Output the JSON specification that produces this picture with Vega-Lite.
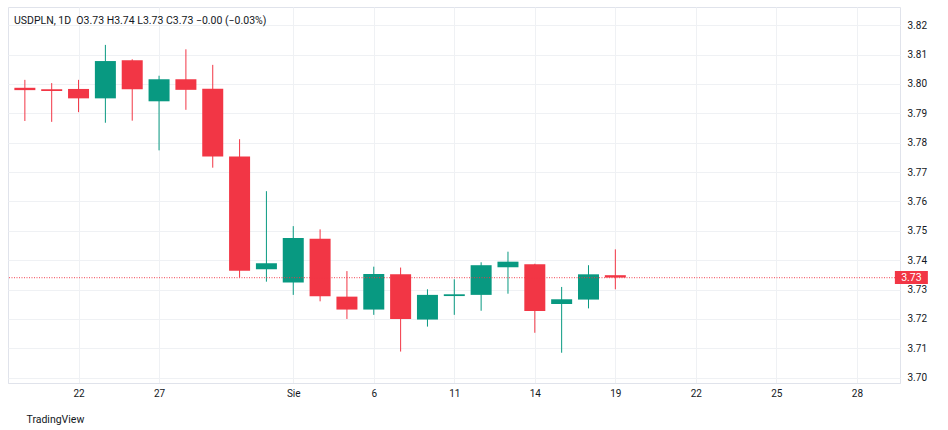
{
  "$schema": "https://vega.github.io/schema/vega-lite/v6.json",
  "width": 892,
  "height": 376,
  "autosize": {"type": "none"},
  "padding": {"left": 8, "top": 7, "right": 48, "bottom": 47},
  "background": "white",
  "title": {
    "text": "USDPLN, 1D\u00a0 O3.73 H3.74 L3.73 C3.73 −0.00 (−0.03%)",
    "anchor": "start",
    "frame": "group",
    "offset": -19,
    "dx": 6,
    "font": "Roboto",
    "fontSize": 10.5,
    "fontWeight": "normal",
    "color": "#131722"
  },
  "config": {
    "view": {"stroke": "#e0e3eb", "strokeWidth": 1},
    "axis": {
      "labelFont": "Roboto",
      "labelFontSize": 10,
      "labelColor": "#131722",
      "gridColor": "#eff1f4",
      "gridWidth": 1,
      "ticks": false,
      "domainColor": "#e0e3eb",
      "labelOverlap": false
    },
    "axisY": {"tickCount": 13, "labelOverlap": false}
  },
  "data": {
    "values": [
      {"i": 0, "date": "2025-07-18", "o": 3.7987, "h": 3.8014, "l": 3.7874, "c": 3.7979},
      {"i": 1, "date": "2025-07-21", "o": 3.7982, "h": 3.8003, "l": 3.7871, "c": 3.7976},
      {"i": 2, "date": "2025-07-22", "o": 3.7983, "h": 3.8014, "l": 3.7904, "c": 3.7951},
      {"i": 3, "date": "2025-07-23", "o": 3.7951, "h": 3.8133, "l": 3.7868, "c": 3.8078},
      {"i": 4, "date": "2025-07-24", "o": 3.8081, "h": 3.8084, "l": 3.7875, "c": 3.7982},
      {"i": 5, "date": "2025-07-25", "o": 3.7941, "h": 3.8028, "l": 3.7774, "c": 3.8016},
      {"i": 6, "date": "2025-07-28", "o": 3.8016, "h": 3.8118, "l": 3.7912, "c": 3.7980},
      {"i": 7, "date": "2025-07-29", "o": 3.7984, "h": 3.8065, "l": 3.7715, "c": 3.7753},
      {"i": 8, "date": "2025-07-30", "o": 3.7753, "h": 3.7812, "l": 3.7341, "c": 3.7364},
      {"i": 9, "date": "2025-07-31", "o": 3.7369, "h": 3.7635, "l": 3.7327, "c": 3.7390},
      {"i": 10, "date": "2025-08-01", "o": 3.7324, "h": 3.7516, "l": 3.7282, "c": 3.7476},
      {"i": 11, "date": "2025-08-04", "o": 3.7473, "h": 3.7505, "l": 3.7260, "c": 3.7277},
      {"i": 12, "date": "2025-08-05", "o": 3.7276, "h": 3.7363, "l": 3.7200, "c": 3.7232},
      {"i": 13, "date": "2025-08-06", "o": 3.7232, "h": 3.7378, "l": 3.7214, "c": 3.7353},
      {"i": 14, "date": "2025-08-07", "o": 3.7352, "h": 3.7375, "l": 3.7089, "c": 3.7200},
      {"i": 15, "date": "2025-08-08", "o": 3.7198, "h": 3.7301, "l": 3.7174, "c": 3.7282},
      {"i": 16, "date": "2025-08-11", "o": 3.7278, "h": 3.7335, "l": 3.7214, "c": 3.7284},
      {"i": 17, "date": "2025-08-12", "o": 3.7282, "h": 3.7393, "l": 3.7228, "c": 3.7383},
      {"i": 18, "date": "2025-08-13", "o": 3.7376, "h": 3.7429, "l": 3.7286, "c": 3.7395},
      {"i": 19, "date": "2025-08-14", "o": 3.7386, "h": 3.7388, "l": 3.7153, "c": 3.7227},
      {"i": 20, "date": "2025-08-15", "o": 3.7251, "h": 3.7309, "l": 3.7085, "c": 3.7267},
      {"i": 21, "date": "2025-08-18", "o": 3.7266, "h": 3.7383, "l": 3.7236, "c": 3.7352},
      {"i": 22, "date": "2025-08-19", "o": 3.7349, "h": 3.7437, "l": 3.7301, "c": 3.7341}
    ]
  },
  "layer": [
    {
      "mark": {"type": "rule", "strokeWidth": 1},
      "encoding": {
        "x": {
          "field": "i",
          "type": "quantitative",
          "scale": {"domain": [-0.442, 32.42], "nice": false, "zero": false},
          "axis": {
            "values": [2, 5, 10, 13, 16, 19, 22, 25, 28, 31],
            "labelExpr": "['22','27','Sie','6','11','14','19','22','25','28'][indexof([2,5,10,13,16,19,22,25,28,31], datum.value)]",
            "grid": true,
            "domain": true,
            "labelPadding": 5,
            "labelBaseline": "top",
            "title": "TradingView",
            "titleAlign": "left",
            "titleX": 18,
            "titleY": 39,
            "titleBaseline": "alphabetic",
            "titleFont": "Roboto",
            "titleFontSize": 10.5,
            "titleFontWeight": "normal",
            "titleColor": "#131722"
          }
        },
        "y": {
          "field": "l",
          "type": "quantitative",
          "scale": {"domain": [3.6982, 3.8262], "nice": false, "zero": false},
          "axis": {
            "orient": "right",
            "values": [3.70, 3.71, 3.72, 3.73, 3.74, 3.75, 3.76, 3.77, 3.78, 3.79, 3.80, 3.81, 3.82],
            "tickCount": 13,
            "labelOverlap": false,
            "format": ".2f",
            "grid": true,
            "domain": false,
            "labelPadding": 7,
            "title": null
          }
        },
        "y2": {"field": "h"},
        "color": {
          "condition": {"test": "datum.c >= datum.o", "value": "#089981"},
          "value": "#F23645"
        }
      }
    },
    {
      "mark": {"type": "bar", "size": 21},
      "encoding": {
        "x": {"field": "i", "type": "quantitative"},
        "y": {"field": "o", "type": "quantitative"},
        "y2": {"field": "c"},
        "color": {
          "condition": {"test": "datum.c >= datum.o", "value": "#089981"},
          "value": "#F23645"
        }
      }
    },
    {
      "transform": [{"filter": "datum.i == 22"}],
      "mark": {"type": "rule", "color": "#F23645", "stroke": "#F23645", "strokeDash": [1, 1.5], "strokeWidth": 1.3, "opacity": 0.75},
      "encoding": {
        "y": {"field": "c", "type": "quantitative"},
        "stroke": {"value": "#F23645"}
      }
    },
    {
      "transform": [{"filter": "datum.i == 22"}],
      "mark": {"type": "point", "shape": "M-1,-0.394H1V0.394H-1Z", "size": 1089, "filled": true, "opacity": 1},
      "encoding": {
        "x": {"datum": 33.03, "type": "quantitative"},
        "y": {"field": "c", "type": "quantitative"},
        "color": {"value": "#F23645"}
      }
    },
    {
      "transform": [{"filter": "datum.i == 22"}],
      "mark": {"type": "text", "font": "Roboto", "fontSize": 10.5, "align": "center", "baseline": "middle"},
      "encoding": {
        "x": {"datum": 33.03, "type": "quantitative"},
        "y": {"field": "c", "type": "quantitative"},
        "text": {"field": "c", "type": "quantitative", "format": ".2f"},
        "color": {"value": "white"}
      }
    }
  ]
}
